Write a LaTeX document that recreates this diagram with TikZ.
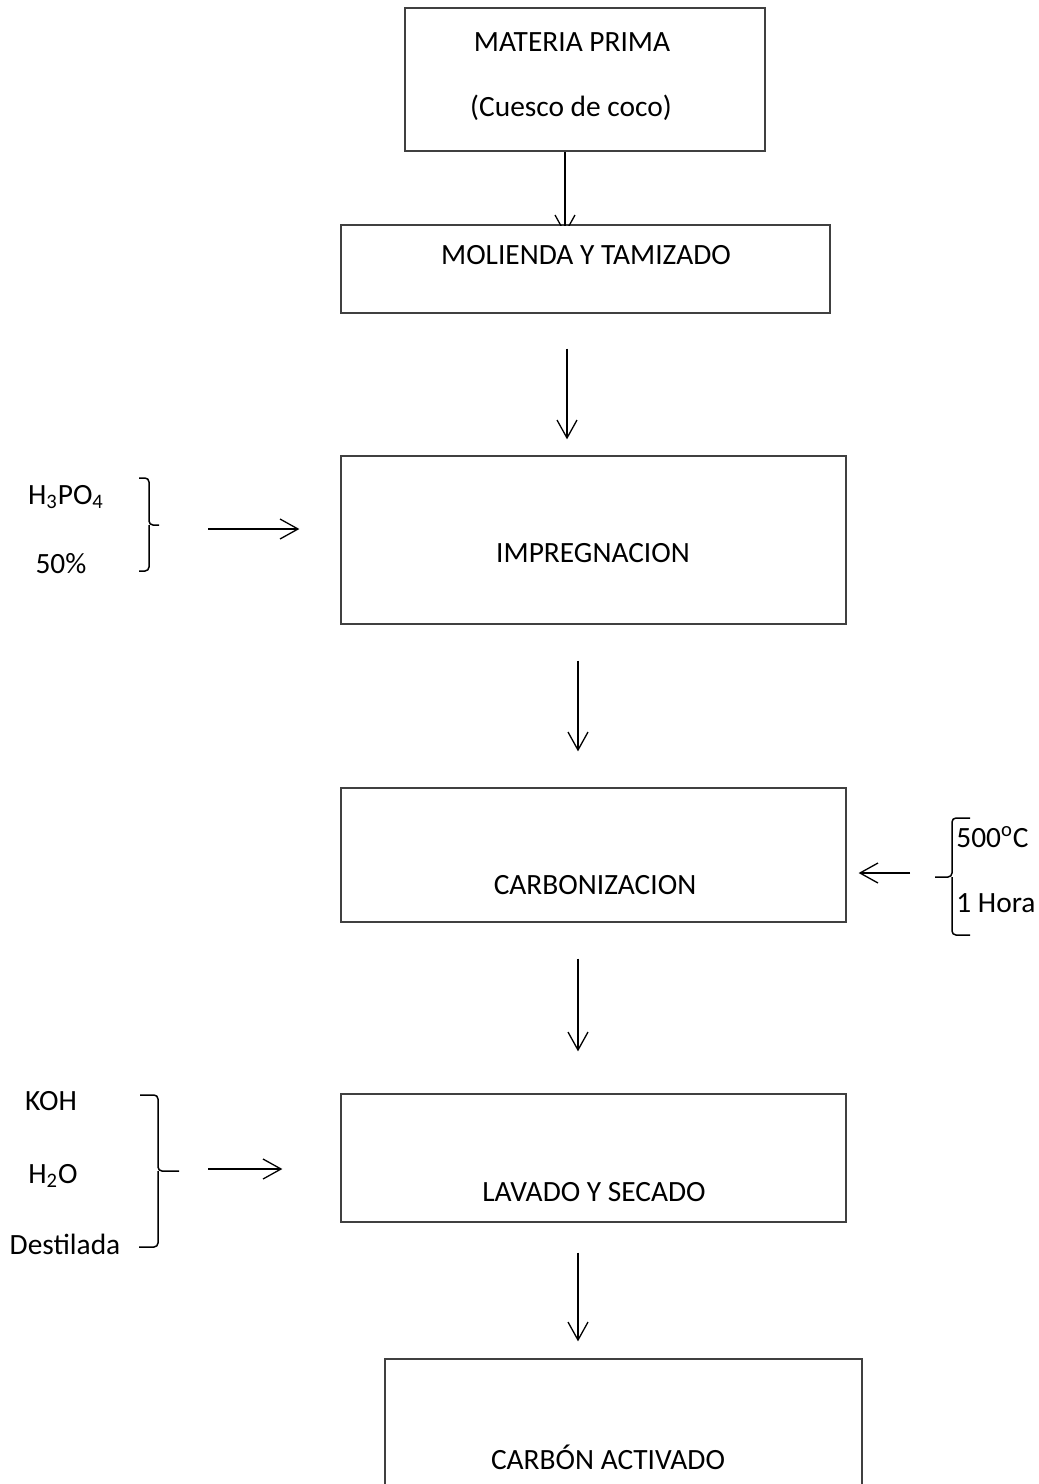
\documentclass[tikz,border=0pt]{standalone}
\usepackage{fontspec}
\setmainfont{Carlito}
\usetikzlibrary{arrows.meta}
\tikzstyle{box} = [draw=black!75, line width=0.65pt, inner sep=0pt]
\tikzstyle{flow} = [draw, line width=0.65pt, -{Straight Barb[length=9pt,width=10pt]}]
\tikzstyle{brace} = [draw, line width=0.75pt, rounded corners=2pt]
\tikzstyle{txt} = [inner sep=0pt, font=\fontsize{14.7}{17}\selectfont]

\begin{document}
\begin{tikzpicture}[x=0.5pt, y=-0.5pt]
    \useasboundingbox (0,0) rectangle (1039,1484);
    % Draw the boxes.
    \node [box, minimum width=180pt, minimum height=71.5pt] (prima) at (585,79.5) {};
    \node [box, minimum width=244.5pt, minimum height=44pt] (molienda) at (585.5,269) {};
    \node [box, minimum width=252.5pt, minimum height=84pt] (impreg) at (593.5,540) {};
    \node [box, minimum width=252.5pt, minimum height=67pt] (carbon) at (593.5,855) {};
    \node [box, minimum width=252.5pt, minimum height=64pt] (lavado) at (593.5,1158) {};
    \node [box, minimum width=238.5pt, minimum height=80.5pt] (activado) at (623.5,1439.5) {};
    % Box texts.
    \node [txt] (tprima) at (572,42) {MATERIA PRIMA};
    \node [txt] (tcuesco) at (571,108) {(Cuesco de coco)};
    \node [txt] (tmolienda) at (586,255) {MOLIENDA Y TAMIZADO};
    \node [txt] (timpreg) at (593,553) {IMPREGNACION};
    \node [txt] (tcarbon) at (595,885) {CARBONIZACION};
    \node [txt] (tlavado) at (594,1192) {LAVADO Y SECADO};
    \node [txt] (tactivado) at (608,1457) {CARBÓN ACTIVADO};
    % Main flow, top to bottom.
    \coordinate (f1) at (565,0);
    \coordinate (f2) at (567,0);
    \coordinate (f3) at (578,0);
    \begin{scope}
        \clip (0,0) rectangle (1039,225);
        \path [flow, shorten >=-5pt] (prima.south -| f1) -- (molienda.north -| f1);
    \end{scope}
    \path [flow, shorten <=17.5pt, shorten >=8pt] (molienda.south -| f2) -- (impreg.north -| f2);
    \path [flow, shorten <=18pt, shorten >=18pt] (impreg.south -| f3) -- (carbon.north -| f3);
    \path [flow, shorten <=18pt, shorten >=21pt] (carbon.south -| f3) -- (lavado.north -| f3);
    \path [flow, shorten <=15pt, shorten >=8.5pt] (lavado.south -| f3) -- (activado.north -| f3);
    % Acid -> Impregnacion.
    \node [txt] (acido) at (66,497) {H\textsubscript{3}PO\textsubscript{4}};
    \node [txt] (conc) at (61,564) {50\%};
    \path [brace] (139,478) -- (149,478) -- (149,525) -- (159,525);
    \path [brace] (149,525) -- (149,571) -- (139,571);
    \coordinate (a1) at (208,529);
    \path [flow, shorten >=20.5pt] (a1) -- (impreg.west |- a1);
    % Conditions -> Carbonizacion.
    \node [txt, anchor=west] (temp) at (956,837) {500\textsuperscript{o}C};
    \node [txt, anchor=west] (tiempo) at (956,903) {1 Hora};
    \path [brace] (970,818) -- (952,818) -- (952,877) -- (935,877);
    \path [brace] (952,877) -- (952,935) -- (970,935);
    \coordinate (a2) at (910,873);
    \path [flow, shorten >=6pt] (a2) -- (carbon.east |- a2);
    % Washing -> Lavado.
    \node [txt] (koh) at (51,1101) {KOH};
    \node [txt] (agua) at (53,1176) {H\textsubscript{2}O};
    \node [txt] (dest) at (65,1244) {Destilada};
    \path [brace] (140,1095) -- (158,1095) -- (158,1171) -- (179,1171);
    \path [brace] (158,1171) -- (158,1247) -- (139,1247);
    \coordinate (a3) at (208,1169);
    \path [flow, shorten >=29pt] (a3) -- (lavado.west |- a3);
\end{tikzpicture}
\end{document}
